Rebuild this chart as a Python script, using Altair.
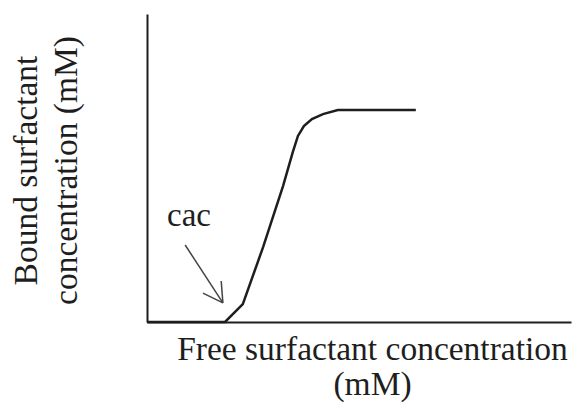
import altair as alt
import pandas as pd

# Curve: free vs bound surfactant concentration (arbitrary units)
free_conc = [0, 1.84, 2.26, 2.74, 3.21, 3.44, 3.56, 3.70, 3.89, 4.15, 4.50, 6.34]
bound_conc = [0, 0, 0.58, 2.44, 4.42, 5.52, 6.04, 6.36, 6.59, 6.75, 6.88, 6.88]

# Arrow pointing at the cac (shaft + two barbs)
arrow_x = [0.90, 1.32, 1.75]
arrow_y = [2.50, 0.94, 1.33]
arrow_x2 = [1.79, 1.79, 1.79]
arrow_y2 = [0.62, 0.62, 0.62]

label_text = ["cac"]
label_x = [0.99]
label_y = [3.12]

x_title = ["Free surfactant concentration", "(mM)"]
y_title = ["Bound surfactant", "concentration (mM)"]

FONT = "Liberation Serif"
INK = "#1e1e1e"

curve_df = pd.DataFrame({"free": free_conc, "bound": bound_conc})
arrow_df = pd.DataFrame({"free": arrow_x, "bound": arrow_y, "x2": arrow_x2, "y2": arrow_y2})
label_df = pd.DataFrame({"t": label_text, "free": label_x, "bound": label_y})

xscale = alt.Scale(domain=[0, 10], nice=False, zero=True)
yscale = alt.Scale(domain=[0, 10], nice=False, zero=True)

xaxis = alt.Axis(
    title=x_title, titleFont=FONT, titleFontSize=33.5, titleFontWeight="normal",
    titleColor=INK, titleAlign="center", titleBaseline="top",
    titleX=225, titleY=11, titleLineHeight=35,
    ticks=False, labels=False, grid=False,
    domainColor=INK, domainWidth=2)
yaxis = alt.Axis(
    title=y_title, titleFont=FONT, titleFontSize=33.5, titleFontWeight="normal",
    titleColor=INK, titleAlign="center", titleBaseline="top", titleAngle=270,
    titleX=-137, titleY=156, titleLineHeight=40,
    ticks=False, labels=False, grid=False,
    domainColor=INK, domainWidth=2)

X = alt.X("free:Q", scale=xscale, axis=xaxis)
Y = alt.Y("bound:Q", scale=yscale, axis=yaxis)

curve = alt.Chart(curve_df).mark_line(color=INK, strokeWidth=2.5).encode(x=X, y=Y)

arrow = alt.Chart(arrow_df).mark_rule(color="#444444", strokeWidth=1.5).encode(
    x=X, y=Y, x2="x2:Q", y2="y2:Q",
)

label = alt.Chart(label_df).mark_text(
    font=FONT, fontSize=33, color=INK, align="center", baseline="alphabetic"
).encode(x=X, y=Y, text="t:N")

chart = alt.layer(curve, arrow, label).properties(
    width=424, height=308,
    background="white",
    autosize=alt.AutoSizeParams(type="none"),
    padding={"left": 139, "top": 6, "right": 2, "bottom": 82},
).configure_view(strokeWidth=0)

chart.save("out.html", embed_options={"renderer": "svg", "actions": False})
